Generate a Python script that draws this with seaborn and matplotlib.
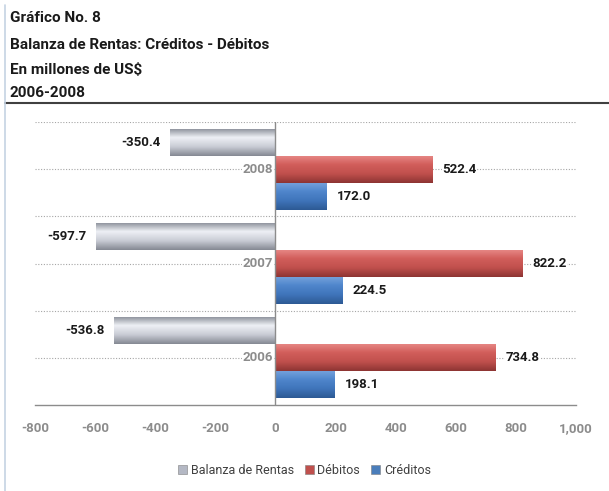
import numpy as np
import pandas as pd
import matplotlib
matplotlib.use("Agg")
import matplotlib.pyplot as plt
import matplotlib.transforms as mtransforms
from matplotlib.patches import Patch
from matplotlib.colors import to_rgb
import seaborn as sns

# datos del gráfico
anios = ["2008", "2007", "2006"]
balanza = [-350.4, -597.7, -536.8]
debitos = [522.4, 822.2, 734.8]
creditos = [172.0, 224.5, 198.1]
series = ["Balanza de Rentas", "Débitos", "Créditos"]
ticks_x = [-800, -600, -400, -200, 0, 200, 400, 600, 800, 1000]
etiquetas_x = ["-800", "-600", "-400", "-200", "0", "200", "400", "600", "800", "1,000"]

df = pd.DataFrame({
    "Año": anios * 3,
    "Serie": [series[0]] * 3 + [series[1]] * 3 + [series[2]] * 3,
    "Valor": balanza + debitos + creditos,
})

colores = {"Balanza de Rentas": "#b4b8c4", "Débitos": "#c0504d", "Créditos": "#4a7ebb"}
# degradado: arriba -> abajo
degradados = {
    "Balanza de Rentas": ["#878b96", "#eef0f5", "#c9ccd5", "#858993"],
    "Débitos": ["#e88a88", "#d25e5b", "#c0504d", "#8e3533"],
    "Créditos": ["#77a3dc", "#4f86cc", "#3f74ba", "#2d5a94"],
}

sns.set_theme(style="white")
plt.rcParams["font.family"] = ["Roboto", "DejaVu Sans"]

fig = plt.figure(figsize=(6.09, 4.91), dpi=100)
ax = fig.add_axes([35 / 609, 1 - 405 / 491, 541 / 609, 283 / 491])

sns.barplot(data=df, x="Valor", y="Año", hue="Serie", order=anios, hue_order=series,
            palette=colores, orient="h", width=0.86, legend=False, ax=ax,
            edgecolor="none", linewidth=0, saturation=1)

ax.set_xlim(-800, 1000)
ax.set_ylim(2.5, -0.5)

# degradado sobre cada barra
for cont, serie in zip(ax.containers, series):
    cols = np.array([to_rgb(c) for c in degradados[serie]])
    pos = np.linspace(0, 1, len(cols))
    t = np.linspace(0, 1, 60)
    grad = np.stack([np.interp(t, pos, cols[:, k]) for k in range(3)], axis=1)[:, None, :]
    for p in cont.patches:
        x0, y0 = p.get_x(), p.get_y()
        x1, y1 = x0 + p.get_width(), y0 + p.get_height()
        im = ax.imshow(grad, extent=(min(x0, x1), max(x0, x1), max(y0, y1), min(y0, y1)),
                       origin="upper", aspect="auto", zorder=2.5)
        im.set_clip_path(p)
    ax.bar_label(cont, fmt="%.1f", padding=7, fontsize=9.5, fontweight="bold",
                 color="#1a1a1a", zorder=4,
                 bbox=dict(facecolor="white", edgecolor="none", pad=0.5))

ax.set_xlim(-800, 1000)
ax.set_ylim(2.5, -0.5)

# líneas de cuadrícula punteadas
for yv in [-0.5, 0, 0.5, 1, 1.5, 2]:
    ax.axhline(yv, xmin=0, xmax=1, color="#a6a6a6", linestyle=(0, (1, 1.5)), linewidth=0.8, zorder=0)

ax.axvline(0, color="#8c8c8c", linewidth=1.0, zorder=3)
for s in ["top", "right", "left"]:
    ax.spines[s].set_visible(False)
ax.spines["bottom"].set_color("#8c8c8c")
ax.spines["bottom"].set_linewidth(1.0)

ax.set_xticks(ticks_x)
ax.set_xticklabels([])
ax.tick_params(axis="x", direction="out", length=5, width=1, color="#8c8c8c")
trans = mtransforms.blended_transform_factory(ax.transData, ax.transAxes)
for xv, lab in zip(ticks_x, etiquetas_x):
    ax.text(xv, -27 / 283, lab, transform=trans, ha="center", va="baseline", fontsize=9.5,
            fontweight="bold", color="#8c8c8c", clip_on=False)
ax.set_yticks([])
ax.set_xlabel("")
ax.set_ylabel("")

# etiquetas de categoría junto al eje 0
for i, a in enumerate(anios):
    ax.text(-8, i, a, ha="right", va="center", fontsize=9.5, fontweight="bold",
            color="#8c8c8c", zorder=4,
            bbox=dict(facecolor="white", edgecolor="none", pad=0.5))

# leyenda
handles = [Patch(facecolor=colores[s], edgecolor="#7f7f7f", linewidth=0.4) for s in series]
fig.legend(handles, series, loc="center", bbox_to_anchor=(0.5, 1 - 470 / 491), ncol=3,
           frameon=False, fontsize=9, handlelength=0.7, handleheight=0.7,
           handletextpad=0.3, columnspacing=0.9, labelcolor="#404040")

# encabezado
titulos = ["Gráfico No. 8", "Balanza de Rentas: Créditos - Débitos", "En millones de US$", "2006-2008"]
ys = [18, 45, 70, 93]
for t, yy in zip(titulos, ys):
    fig.text(10 / 609, 1 - yy / 491, t, ha="left", va="center", fontsize=11, fontweight="bold",
             color="#1a1a1a")

fig.add_artist(plt.Line2D([5 / 609, 1], [1 - 103 / 491] * 2, color="#404040", linewidth=1.5))
fig.add_artist(plt.Line2D([5 / 609] * 2, [0, 1 - 5 / 491], color="#c5d3e3", linewidth=1.2))

fig.savefig("out.png", dpi=100)
